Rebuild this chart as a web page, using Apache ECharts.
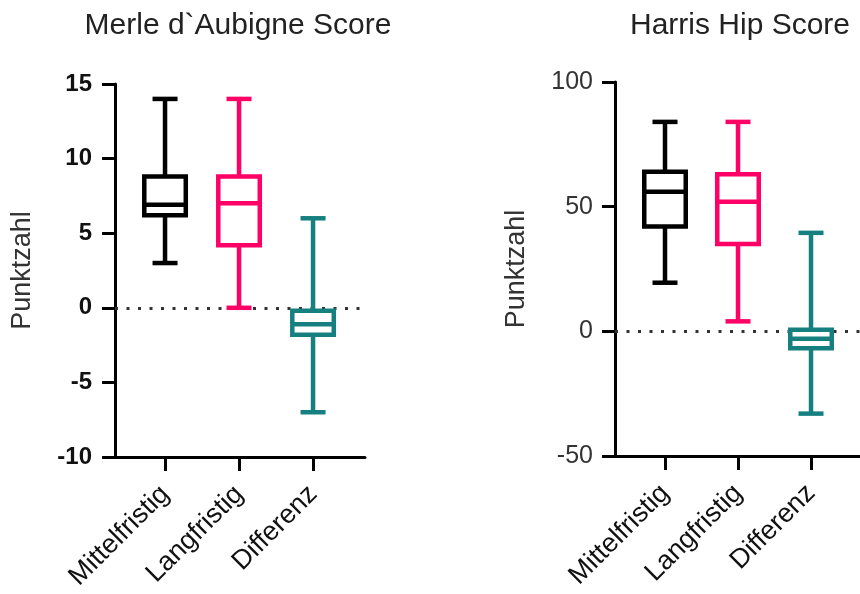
<!DOCTYPE html>
<html>
<head>
<meta charset="utf-8">
<script src="https://cdn.jsdelivr.net/npm/echarts@6/dist/echarts.min.js"></script>
<style>
  html, body { margin: 0; padding: 0; background: #fff; }
  #chart { width: 860px; height: 594px; }
</style>
</head>
<body>
<div id="chart"></div>
<script>
// categories and colours
const categories = ['Mittelfristig', 'Langfristig', 'Differenz']
const boxColors = ['#000000', '#ff0066', '#168080']

// Merle d`Aubigne Score: min, Q1, median, Q3, max per group
const merleMin = [3, 0, -7]
const merleQ1 = [6.2, 4.2, -1.8]
const merleMedian = [6.9, 7, -1.1]
const merleQ3 = [8.8, 8.8, -0.2]
const merleMax = [14, 14, 6]

// Harris Hip Score
const harrisMin = [19.5, 4, -33]
const harrisQ1 = [42, 35, -6.8]
const harrisMedian = [56, 52, -3]
const harrisQ3 = [64, 63, 0.6]
const harrisMax = [84, 84, 39.5]

const merleTicks = [-10, -5, 0, 5, 10, 15]
const harrisTicks = [-50, 0, 50, 100]

const fontFamily = 'Liberation Sans, Arial, sans-serif'

function buildRows(mins, q1s, meds, q3s, maxs) {
    let rows = []
    categories.forEach((c, i) => {
        rows.push([i, mins[i], q1s[i], meds[i], q3s[i], maxs[i]])
    })
    return rows
}

function renderBox(params, api) {
    const x = api.value(0)
    const color = boxColors[params.dataIndex]
    const pMin = api.coord([x, api.value(1)])
    const pQ1 = api.coord([x, api.value(2)])
    const pMed = api.coord([x, api.value(3)])
    const pQ3 = api.coord([x, api.value(4)])
    const pMax = api.coord([x, api.value(5)])
    const cx = pMin[0]
    const boxW = 41.5
    const capW = 25
    const style = { stroke: color, lineWidth: 4.5, fill: null }
    return {
        type: 'group',
        children: [
            { type: 'line', shape: { x1: cx, y1: pMax[1], x2: cx, y2: pQ3[1] }, style: style },
            { type: 'line', shape: { x1: cx, y1: pQ1[1], x2: cx, y2: pMin[1] }, style: style },
            { type: 'line', shape: { x1: cx - capW / 2, y1: pMax[1], x2: cx + capW / 2, y2: pMax[1] }, style: style },
            { type: 'line', shape: { x1: cx - capW / 2, y1: pMin[1], x2: cx + capW / 2, y2: pMin[1] }, style: style },
            {
                type: 'rect',
                shape: { x: cx - boxW / 2, y: pQ3[1], width: boxW, height: pQ1[1] - pQ3[1] },
                style: { stroke: color, lineWidth: 4.5, fill: '#fff' }
            },
            { type: 'line', shape: { x1: cx - boxW / 2, y1: pMed[1], x2: cx + boxW / 2, y2: pMed[1] }, style: style },
        ]
    }
}

function xAxisFor(gridIndex, min, max) {
    return {
        gridIndex: gridIndex,
        type: 'value',
        min: min,
        max: max,
        splitLine: { show: false },
        axisLine: { show: true, onZero: false, lineStyle: { color: '#000', width: 3 } },
        axisTick: { show: true, customValues: [0, 1, 2], length: 14, lineStyle: { color: '#000', width: 3 } },
        axisLabel: {
            customValues: [0, 1, 2],
            formatter: (v) => categories[Math.round(v)],
            rotate: 45,
            margin: 33,
            fontSize: 27,
            color: '#111',
            fontFamily: fontFamily
        }
    }
}

function yAxisFor(gridIndex, ticks, bold, size, color, gap, margin) {
    return {
        gridIndex: gridIndex,
        type: 'value',
        min: ticks[0],
        max: ticks[ticks.length - 1],
        interval: ticks[1] - ticks[0],
        name: 'Punktzahl',
        nameLocation: 'middle',
        nameGap: gap,
        nameTextStyle: { fontSize: 27, color: '#333', fontFamily: fontFamily },
        splitLine: { show: false },
        axisLine: { show: true, onZero: false, lineStyle: { color: '#000', width: 3 } },
        axisTick: { show: true, length: 13, lineStyle: { color: '#000', width: 3 } },
        axisLabel: {
            margin: margin,
            fontSize: size,
            fontWeight: bold ? 'bold' : 'normal',
            color: color,
            fontFamily: fontFamily
        }
    }
}

const zeroLine = {
    silent: true,
    symbol: 'none',
    z: 1,
    label: { show: false },
    lineStyle: { color: '#333', width: 3, type: [3, 8.5] },
    data: [{ yAxis: 0 }]
}

var myChart = echarts.init(document.getElementById('chart'))
option = {
    animation: false,
    backgroundColor: '#fff',
    title: [{
        text: 'Merle d`Aubigne Score',
        left: 233,
        top: 6,
        textAlign: 'center',
        textStyle: { fontSize: 30, fontWeight: 'normal', color: '#222', fontFamily: fontFamily }
    }, {
        text: 'Harris Hip Score',
        left: 735,
        top: 6,
        textAlign: 'center',
        textStyle: { fontSize: 30, fontWeight: 'normal', color: '#222', fontFamily: fontFamily }
    }],
    grid: [
        { left: 115, top: 84, width: 250, height: 373 },
        { left: 615, top: 82, width: 250, height: 374 }
    ],
    xAxis: [
        xAxisFor(0, -0.676, 2.702),
        xAxisFor(1, -0.685, 2.671)
    ],
    yAxis: [
        yAxisFor(0, merleTicks, true, 24, '#111', 79, 23),
        yAxisFor(1, harrisTicks, false, 25, '#333', 85, 22)
    ],
    series: [{
        type: 'custom',
        name: 'Merle',
        xAxisIndex: 0,
        yAxisIndex: 0,
        z: 2,
        renderItem: renderBox,
        encode: { x: 0, y: [1, 2, 3, 4, 5] },
        data: buildRows(merleMin, merleQ1, merleMedian, merleQ3, merleMax),
        markLine: zeroLine
    }, {
        type: 'custom',
        name: 'Harris',
        xAxisIndex: 1,
        yAxisIndex: 1,
        z: 2,
        renderItem: renderBox,
        encode: { x: 0, y: [1, 2, 3, 4, 5] },
        data: buildRows(harrisMin, harrisQ1, harrisMedian, harrisQ3, harrisMax),
        markLine: zeroLine
    }]
}
myChart.setOption(option)
</script>
</body>
</html>
